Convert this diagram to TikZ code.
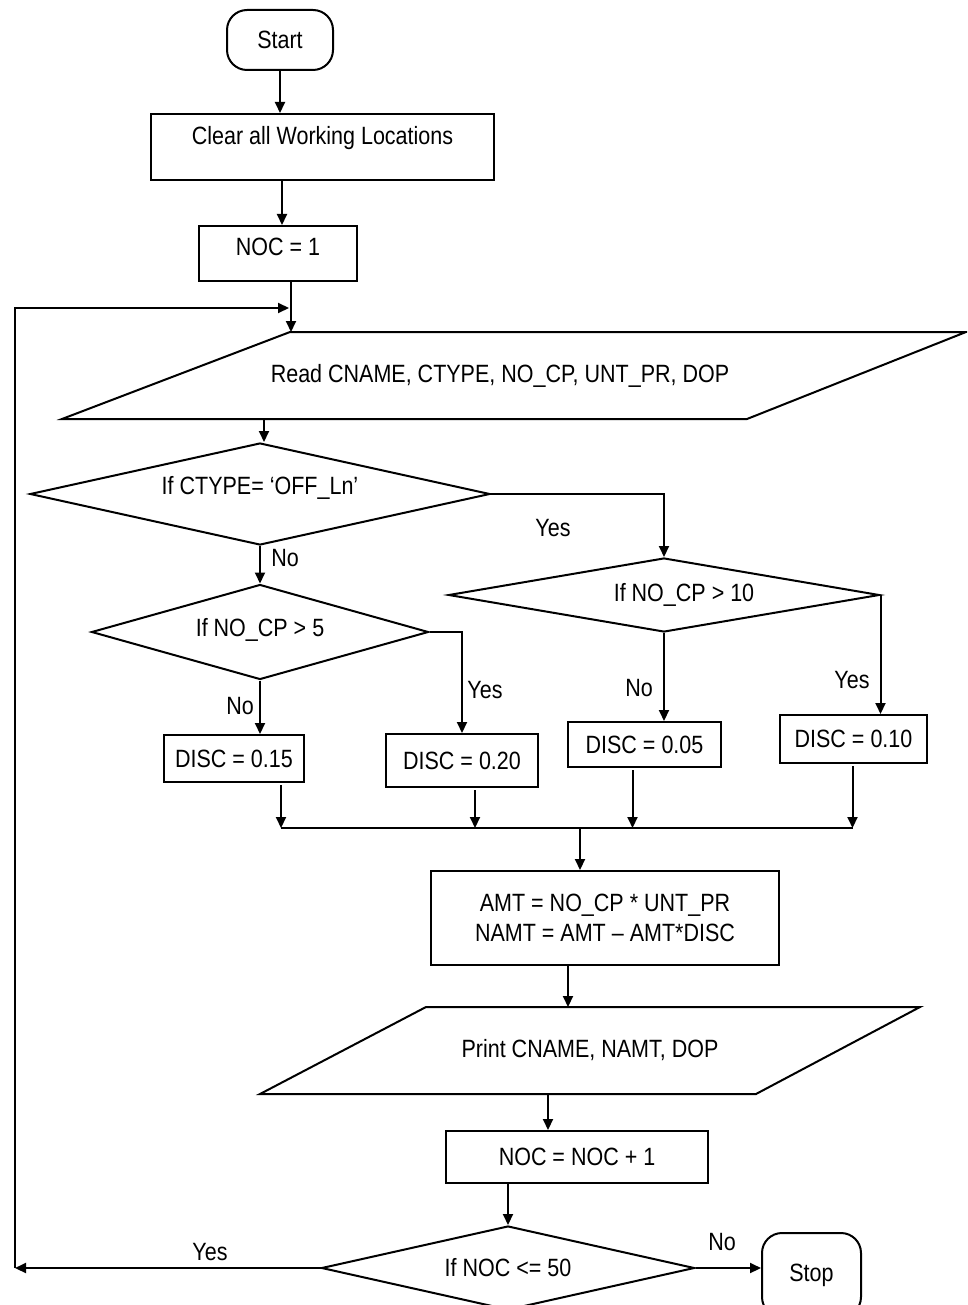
\documentclass[tikz,border=0pt]{standalone}
\usepackage{fontspec}
\setmainfont{Liberation Sans}[FakeStretch=0.86]
\usetikzlibrary{shapes,arrows,positioning,calc,arrows.meta}

\begin{document}
\begin{tikzpicture}[x=1pt, y=-1pt,
    font=\fontsize{25}{30}\selectfont,
    line width=2pt, >={Triangle[length=11pt,width=10pt]},
    procbox/.style={draw, rectangle, inner sep=2pt},
    iobox/.style={rectangle, inner sep=0pt, outer sep=0pt},
    decision/.style={draw, diamond, inner sep=0pt},
    terminal/.style={draw, rectangle, rounded corners=20pt, inner sep=0pt}]
    \useasboundingbox (0,0) rectangle (967,1305);
    \clip (0,0) rectangle (967,1305);

    % Start and set-up
    \node[terminal, minimum width=106pt, minimum height=60pt] (start) at (280,40) {Start};
    \node[procbox, minimum width=343pt, minimum height=66pt, text depth=24pt] (clear) at (322.5,147) {Clear all Working Locations};
    \node[procbox, minimum width=158pt, minimum height=55pt, text depth=14pt] (noc) at (278,253.5) {NOC = 1};

    % Input
    \node[iobox, minimum width=904pt, minimum height=87pt] (read) at (514,375.5) {\hspace*{-28pt}Read CNAME, CTYPE, NO\_CP, UNT\_PR, DOP};
    \draw ([xshift=228pt]read.north west) -- (read.north east) -- ([xshift=-219pt]read.south east) -- (read.south west) -- cycle;

    % Decisions
    \node[decision, aspect=4.5, minimum width=460pt, minimum height=102pt, text depth=18pt] (ctype) at (260,494) {If CTYPE= ‘OFF\_Ln’};
    \node[decision, aspect=3.5, minimum width=337pt, minimum height=95pt, text depth=10pt] (cp5) at (260,632) {If NO\_CP > 5};
    \node[decision, aspect=5.8, minimum width=431pt, minimum height=74pt] (cp10) at (664,595) {\hspace*{40pt}If NO\_CP > 10};

    % Discounts
    \node[procbox, minimum width=140pt, minimum height=47pt] (disc15) at (234,758.5) {DISC = 0.15};
    \node[procbox, minimum width=152pt, minimum height=53pt] (disc20) at (462,760.5) {DISC = 0.20};
    \node[procbox, minimum width=153pt, minimum height=45pt] (disc05) at (644.5,744.5) {DISC = 0.05};
    \node[procbox, minimum width=147pt, minimum height=48pt] (disc10) at (853.5,739) {DISC = 0.10};

    % Amount, output, counter
    \node[procbox, minimum width=348pt, minimum height=94pt, align=center] (calc) at (605,918) {AMT = NO\_CP * UNT\_PR\\NAMT = AMT – AMT*DISC};
    \node[iobox, minimum width=660pt, minimum height=87pt] (print) at (590,1050.5) {Print CNAME, NAMT, DOP};
    \draw ([xshift=166pt]print.north west) -- (print.north east) -- ([xshift=-164pt]print.south east) -- (print.south west) -- cycle;
    \node[procbox, minimum width=262pt, minimum height=52pt] (incr) at (577,1157) {NOC = NOC + 1};
    \node[decision, aspect=4.44, minimum width=373pt, minimum height=84pt] (last) at (508,1268) {If NOC <= 50};
    \node[terminal, minimum width=99pt, minimum height=84pt] (stop) at (811.5,1275) {Stop};

    % Branch labels
    \node (yesA) at (553,528) {Yes};
    \node (noA) at (285,558) {No};
    \node (yesB) at (485,690) {Yes};
    \node (noB) at (240,706) {No};
    \node (noC) at (639,688) {No};
    \node (yesC) at (852,680) {Yes};
    \node (yesD) at (210,1252) {Yes};
    \node (noD) at (722,1242) {No};

    % Flow
    \draw[->] (start.south) -- (start.south |- clear.north);
    \draw[->] ([xshift=4pt]noc.north |- clear.south) -- ([xshift=4pt]noc.north);
    \draw[->] ([xshift=13pt]noc.south) -- ([xshift=13pt]noc.south |- read.north);
    \draw[->] ([xshift=4pt]ctype.north |- read.south) -- ([xshift=4pt]ctype.north);
    \draw[->] (ctype.east) -| (cp10.north);
    \draw[->] (ctype.south) -- (cp5.north);
    \draw[->] (cp5.east) -| (disc20.north);
    \draw[->] (cp5.south) -- (cp5.south |- disc15.north);
    \draw[->] (cp10.east) -- (cp10.east |- disc10.north);
    \draw[->] (cp10.south) -- (cp10.south |- disc05.north);

    % Join
    \coordinate (join) at (580,828);
    \foreach \b/\s in {disc15/47, disc20/13, disc05/-12, disc10/-1}
        \draw[->] ([xshift=\s pt, yshift=-2pt]\b.south) -- ([xshift=\s pt]\b.south |- join);
    \draw ([xshift=47pt]disc15.south |- join) -- ([xshift=-1pt]disc10.south |- join);
    \draw[->] (join) -- (join |- calc.north);
    \draw[->] ([xshift=-37pt]calc.south) -- ([xshift=-37pt]calc.south |- print.north);
    \draw[->] ([xshift=-29pt]incr.north |- print.south) -- ([xshift=-29pt]incr.north);
    \draw[->] (last.north |- incr.south) -- (last.north);
    \draw[->] (last.east) -- (last.east -| stop.west);

    % Loop back
    \coordinate (back) at (15,1268);
    \coordinate (reentry) at (289,308);
    \draw[->] (last.west) -- (back);
    \draw[->] (back) |- (reentry);
\end{tikzpicture}
\end{document}
